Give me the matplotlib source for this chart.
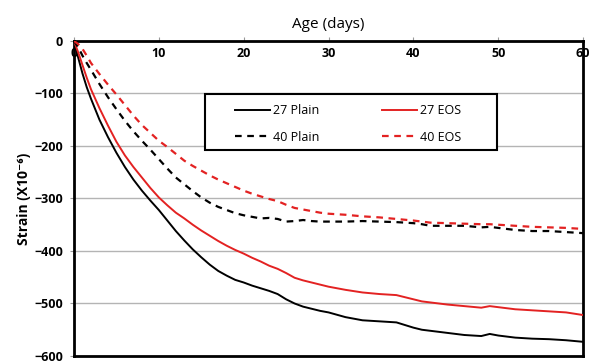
import numpy as np
import matplotlib
matplotlib.use("Agg")
import matplotlib.pyplot as plt
from matplotlib.patches import Rectangle

plt.rcParams['font.family'] = ['Open Sans', 'DejaVu Sans']

# days of measurement
days = [0, 0.5, 1, 1.5, 2, 3, 4, 5, 6, 7, 8, 9, 10, 11, 12, 13, 14, 15, 16, 17,
        18, 19, 20, 21, 22, 23, 24, 25, 26, 27, 28, 29, 30, 32, 34, 36, 38, 40,
        41, 42, 44, 46, 48, 49, 50, 52, 54, 56, 58, 60]

# strain (x10^-6)
plain_27 = [0, -32, -62, -88, -110, -150, -183, -213, -240, -264, -285, -304,
            -322, -342, -362, -380, -397, -412, -426, -438, -447, -455, -460,
            -466, -471, -476, -482, -492, -500, -506, -510, -514, -517, -526,
            -532, -534, -536, -546, -550, -552, -556, -560, -562, -558, -561,
            -565, -567, -568, -570, -573]
eos_27 = [0, -22, -46, -70, -92, -128, -161, -192, -218, -240, -260, -280,
          -298, -313, -327, -338, -350, -361, -371, -381, -390, -398, -405,
          -413, -420, -428, -434, -442, -451, -456, -460, -464, -468, -474,
          -479, -482, -484, -492, -496, -498, -502, -505, -508, -505, -507,
          -511, -513, -515, -517, -522]
plain_40 = [0, -12, -28, -42, -55, -82, -107, -130, -152, -172, -190, -207,
            -225, -243, -260, -273, -286, -298, -308, -316, -322, -328, -332,
            -335, -338, -337, -339, -344, -343, -341, -343, -344, -344, -344,
            -343, -344, -345, -347, -349, -352, -352, -352, -355, -354, -356,
            -360, -362, -362, -364, -366]
eos_40 = [0, -6, -15, -28, -42, -63, -83, -102, -122, -142, -160, -175, -190,
          -202, -215, -228, -238, -247, -256, -264, -271, -278, -285, -291,
          -296, -301, -305, -312, -318, -321, -324, -327, -329, -331, -334,
          -336, -339, -342, -344, -346, -347, -348, -349, -349, -350, -352,
          -354, -355, -356, -358]

red = '#e32222'

fig = plt.figure(figsize=(5.94, 3.64), dpi=100)
ax = fig.add_axes([0.1246, 0.022, 0.857, 0.8654])

l1, = ax.plot(days, plain_27, color='black', lw=1.4, label='27 Plain', zorder=3)
l2, = ax.plot(days, eos_27, color=red, lw=1.4, label='27 EOS', zorder=3)
l3, = ax.plot(days, plain_40, color='black', lw=1.6, ls=(0, (3, 2.5)), label='40 Plain', zorder=3)
l4, = ax.plot(days, eos_40, color=red, lw=1.6, ls=(0, (3, 2.5)), label='40 EOS', zorder=3)

ax.set_xlim(0, 60)
ax.set_ylim(-600, 0)
ax.set_xticks(range(0, 61, 10))
ax.set_yticks(range(-600, 1, 100))
ax.yaxis.grid(True, color='#b4b4b4', lw=1.0)
ax.set_axisbelow(True)

ax.xaxis.set_ticks_position('top')
ax.xaxis.set_label_position('top')
ax.tick_params(axis='x', direction='out', length=3, color='#999999', pad=-17,
               labelsize=9)
ax.tick_params(axis='y', direction='out', length=3, color='#999999', pad=5,
               labelsize=9)
for lab in ax.get_xticklabels() + ax.get_yticklabels():
    lab.set_fontweight('bold')

for s in ax.spines.values():
    s.set_linewidth(2.0)
    s.set_color('black')

ax.set_title('Age (days)', fontsize=11, pad=9)
ax.set_ylabel('Strain (X10\u207b\u2076)', fontsize=10, fontweight='bold', labelpad=2)

# legend box, filled row by row like the original
ax.add_patch(Rectangle((0.257, 0.654), 0.574, 0.178, transform=ax.transAxes,
                       facecolor='white', edgecolor='black', lw=1.5, zorder=4))
leg = ax.legend([l1, l3, l2, l4], ['27 Plain', '40 Plain', '27 EOS', '40 EOS'],
                loc='upper left', bbox_to_anchor=(0.316, 0.80), ncol=2,
                frameon=False, fontsize=9, borderpad=0, borderaxespad=0,
                handlelength=2.8, handletextpad=0.25, columnspacing=5.0,
                labelspacing=1.1)
leg.set_zorder(5)

fig.savefig('out.png', dpi=100)
